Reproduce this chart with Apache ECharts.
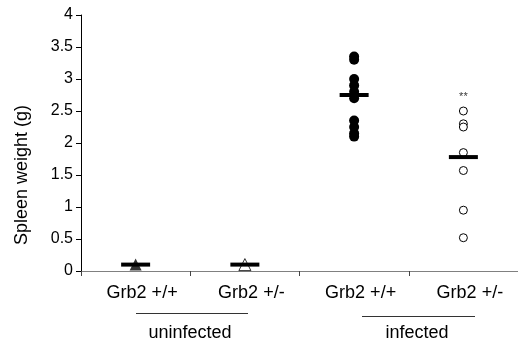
<!DOCTYPE html>
<html>
<head>
<meta charset="utf-8">
<script src="https://cdn.jsdelivr.net/npm/echarts@6/dist/echarts.min.js"></script>
<style>html,body{margin:0;padding:0;background:#fff}#c{width:518px;height:343px}</style>
</head>
<body>
<div id="c"></div>
<script>
const categories = ["Grb2 +/+", "Grb2 +/-", "Grb2 +/+", "Grb2 +/-"];
const groupLabels = ["uninfected", "infected"];
const yTicks = [0, 0.5, 1, 1.5, 2, 2.5, 3, 3.5, 4];
const uninfWT = [0.1];
const uninfHet = [0.1];
const infWT = [3.35, 3.3, 3.0, 2.9, 2.8, 2.7, 2.35, 2.25, 2.15, 2.1];
const infHet = [2.5, 2.3, 2.25, 1.85, 1.57, 0.95, 0.52];
const means = [0.1, 0.1, 2.75, 1.78];
const sigLabel = "**";
const sigValue = 2.72;

const font = "'Liberation Sans', Arial, sans-serif";
const chart = echarts.init(document.getElementById('c'), null, {renderer: 'canvas'});
const pts = (idx, arr) => arr.map(v => [idx, v]);

chart.setOption({
  animation: false,
  grid: {left: 81, top: 15, bottom: 72, width: 448},
  xAxis: {
    type: 'category',
    data: categories,
    boundaryGap: true,
    axisLine: {lineStyle: {color: '#808080', width: 1}},
    axisTick: {show: true, inside: false, length: 5, lineStyle: {color: '#444'}},
    axisLabel: {color: '#000', fontSize: 18, fontFamily: font, margin: 13, padding: [0, 0, 0, 13]}
  },
  yAxis: {
    type: 'value',
    min: 0, max: 4, interval: 0.5,
    splitLine: {show: false},
    axisLine: {show: true, lineStyle: {color: '#000', width: 1}},
    axisTick: {show: true, length: 5, lineStyle: {color: '#000'}},
    axisLabel: {color: '#000', fontSize: 16, fontFamily: font, margin: 8,
      formatter: v => yTicks.includes(v) ? String(v) : ''}
  },
  series: [
    {type: 'scatter', data: pts(0, uninfWT), symbol: 'triangle', symbolSize: 12,
      itemStyle: {color: '#000'}, z: 3},
    {type: 'scatter', data: pts(1, uninfHet), symbol: 'triangle', symbolSize: 12,
      itemStyle: {color: '#fff', borderColor: '#000', borderWidth: 1}, z: 3},
    {type: 'scatter', data: pts(2, infWT), symbol: 'circle', symbolSize: 10,
      itemStyle: {color: '#000', opacity: 1}, z: 3},
    {type: 'scatter', data: pts(3, infHet), symbol: 'circle', symbolSize: 8,
      itemStyle: {color: '#fff', borderColor: '#000', borderWidth: 1, opacity: 1}, z: 3},
    {type: 'scatter', data: means.map((v, i) => [i, v]), symbol: 'rect', symbolSize: [29, 4],
      itemStyle: {color: '#000', opacity: 1}, z: 4},
    {type: 'scatter', data: [[3, sigValue]], symbolSize: 0,
      label: {show: true, position: 'inside', formatter: sigLabel, color: '#000', fontSize: 11, fontFamily: font}, z: 5}
  ],
  graphic: [
    {type: 'text', x: 13, y: 245, rotation: Math.PI / 2,
      style: {text: 'Spleen weight (g)', fontSize: 18, fontFamily: font, fill: '#000', align: 'left', verticalAlign: 'top'}},
    {type: 'line', shape: {x1: 136, y1: 313.5, x2: 248, y2: 313.5}, style: {stroke: '#333', lineWidth: 1}},
    {type: 'line', shape: {x1: 362, y1: 316.5, x2: 475, y2: 316.5}, style: {stroke: '#333', lineWidth: 1}},
    {type: 'text', x: 190, y: 333, style: {text: groupLabels[0], fontSize: 18, fontFamily: font, fill: '#000', align: 'center', verticalAlign: 'middle'}},
    {type: 'text', x: 417, y: 333, style: {text: groupLabels[1], fontSize: 18, fontFamily: font, fill: '#000', align: 'center', verticalAlign: 'middle'}}
  ]
});
</script>
</body>
</html>
